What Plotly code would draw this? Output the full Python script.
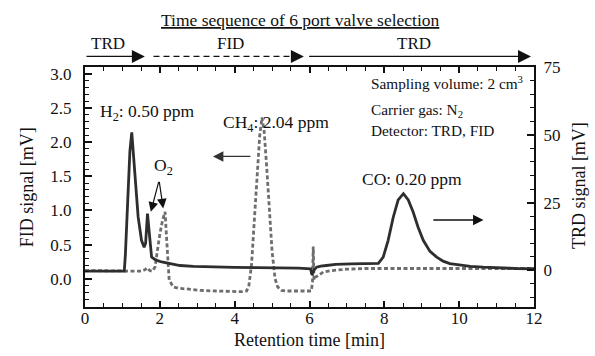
import plotly.graph_objects as go

# ---- data ----
trd_time = [0, 0.3, 0.6, 0.9, 1.05, 1.08, 1.14, 1.20, 1.25, 1.30, 1.34, 1.42, 1.51, 1.58, 1.62, 1.67,
            1.71, 1.74, 1.78, 1.85, 1.92, 2.05, 2.18, 2.35, 2.54, 2.9, 3.43, 4.0, 4.6, 5.2, 5.7, 6.03,
            6.06, 6.09, 6.13, 6.19, 6.3, 6.45, 6.7, 7.1, 7.5, 7.84, 7.97, 8.10, 8.24, 8.37, 8.51, 8.64,
            8.77, 8.90, 9.04, 9.22, 9.40, 9.57, 9.75, 10.0, 10.3, 10.64, 11.0, 11.5, 12.0]
trd_signal = [-0.3, -0.3, -0.4, -0.3, -0.3, 6, 26, 44, 50.9, 41, 32, 19.7, 11.1, 8.5, 10, 20.9,
              15, 9.9, 4.9, 4.2, 3.7, 3.1, 2.7, 2.2, 1.8, 1.5, 1.2, 1.1, 1.0, 1.0, 0.8, 0.6,
              -1.5, -0.8, 0.3, 1.2, 1.6, 1.8, 2.2, 2.4, 2.5, 2.6, 4.9, 11, 19.7, 26, 28.3, 26,
              21.5, 16, 11.1, 7, 4.9, 3.4, 2.5, 2.0, 1.5, 1.2, 0.9, 0.7, 0.6]

fid_time = [0, 0.3, 0.6, 0.9, 1.2, 1.5, 1.6, 1.67, 1.73, 1.80, 1.87, 1.93, 2.0, 2.07, 2.14, 2.18,
            2.21, 2.25, 2.36, 2.5, 2.72, 3.07, 3.5, 3.9, 4.2, 4.32, 4.38, 4.45, 4.52, 4.60, 4.67,
            4.73, 4.79, 4.86, 4.93, 5.00, 5.08, 5.15, 5.25, 5.40, 5.57, 5.8, 6.05, 6.08, 6.10,
            6.12, 6.15, 6.25, 6.37, 6.6, 7.0, 7.5, 8.0, 9.0, 10.0, 11.0, 12.0]
fid_signal = [0.12, 0.12, 0.11, 0.11, 0.11, 0.11, 0.13, 0.16, 0.12, 0.11, 0.17, 0.40, 0.65, 0.85,
              0.98, 0.60, 0.25, -0.02, -0.12, -0.14, -0.15, -0.17, -0.18, -0.19, -0.19, -0.18,
              -0.10, 0.20, 0.80, 1.50, 2.10, 2.36, 2.15, 1.60, 0.95, 0.40, 0.00, -0.12, -0.17,
              -0.18, -0.18, -0.18, -0.18, -0.05, 0.47, -0.02, 0.02, 0.05, 0.10, 0.12, 0.14,
              0.15, 0.15, 0.15, 0.15, 0.15, 0.15]

# valve time sequence (min)
valve_labels = ["TRD", "FID", "TRD"]
valve_start = [0.0, 1.83, 5.95]
valve_end = [1.6, 5.85, 11.92]
valve_label_pos = [0.62, 3.9, 8.8]

FONT = "Times New Roman, Liberation Serif, serif"
BLACK = "#111111"

fig = go.Figure()
fig.add_trace(go.Scatter(x=fid_time, y=fid_signal, mode="lines", yaxis="y",
                         line=dict(color="#6e6e6e", width=2.8, dash="4px,2.5px"),
                         showlegend=False))
fig.add_trace(go.Scatter(x=trd_time, y=trd_signal, mode="lines", yaxis="y2",
                         line=dict(color="#2e2e2e", width=2.8),
                         showlegend=False))

tickfont = dict(family=FONT, size=17, color=BLACK)
fig.update_layout(
    width=595, height=356,
    margin=dict(l=85, r=61, t=67, b=49),
    paper_bgcolor="white", plot_bgcolor="white",
    font=dict(family=FONT, color=BLACK),
    xaxis=dict(range=[0, 12], dtick=2, tick0=0, showgrid=False, zeroline=False, automargin=False,
               showline=True, linecolor=BLACK, linewidth=2, mirror="ticks",
               ticks="inside", ticklen=6, tickwidth=1.5, tickcolor=BLACK,
               minor=dict(dtick=0.5, ticks="inside", ticklen=4, tickwidth=1.2, tickcolor=BLACK),
               tickfont=tickfont, ticklabelstandoff=-5),
    yaxis=dict(range=[-0.414, 3.10], dtick=0.5, tick0=0, tickformat=".1f", showgrid=False,
               zeroline=False, showline=True, linecolor=BLACK, linewidth=2, automargin=False,
               ticks="inside", ticklen=7, tickwidth=1.5, tickcolor=BLACK,
               minor=dict(dtick=0.1, ticks="inside", ticklen=4, tickwidth=1.2, tickcolor=BLACK),
               tickfont=tickfont, ticklabelstandoff=8),
    yaxis2=dict(range=[-13.5, 75], dtick=25, tick0=0, overlaying="y", side="right",
                showgrid=False, zeroline=False, showline=True, linecolor=BLACK, linewidth=2,
                automargin=False,
                ticks="inside", ticklen=7, tickwidth=1.5, tickcolor=BLACK,
                minor=dict(dtick=5, ticks="inside", ticklen=4, tickwidth=1.2, tickcolor=BLACK),
                tickfont=tickfont, ticklabelstandoff=4),
)

anns = []
shapes = []
title_font = dict(family=FONT, size=18, color=BLACK)
# axis titles
anns += [
    dict(text="Retention time [min]", xref="paper", yref="paper", x=0.501, y=-0.139,
         showarrow=False, font=title_font, xanchor="center", yanchor="middle"),
    dict(text="FID signal [mV]", xref="paper", yref="paper", x=-0.129, y=0.499, textangle=-90,
         showarrow=False, font=title_font, xanchor="center", yanchor="middle"),
    dict(text="TRD signal [mV]", xref="paper", yref="paper", x=1.102, y=0.507, textangle=-90,
         showarrow=False, font=title_font, xanchor="center", yanchor="middle"),
]
# title
anns.append(dict(text="<u>Time sequence of 6 port valve selection</u>", xref="paper", yref="paper",
                 x=0.479, y=1.196, showarrow=False, font=dict(family=FONT, size=17.5, color=BLACK),
                 xanchor="center", yanchor="middle"))
ARROW_Y = 1.044
for lab, s, e, lp in zip(valve_labels, valve_start, valve_end, valve_label_pos):
    anns.append(dict(text=lab, xref="x", yref="paper", x=lp, y=1.096, showarrow=False,
                     font=dict(family=FONT, size=17, color=BLACK), xanchor="center", yanchor="middle"))
    if lab == "FID":
        shapes.append(dict(type="line", xref="x", yref="paper", x0=s, x1=e - 0.2, y0=ARROW_Y, y1=ARROW_Y,
                           line=dict(color=BLACK, width=1.3, dash="6px,4px")))
        anns.append(dict(text="", xref="x", yref="paper", x=e, y=ARROW_Y, axref="x", ayref="pixel",
                         ax=e - 0.25, ay=0, showarrow=True, arrowhead=2, arrowsize=2,
                         arrowwidth=1.3, arrowcolor=BLACK))
    else:
        anns.append(dict(text="", xref="x", yref="paper", x=e, y=ARROW_Y, axref="x", ayref="pixel",
                         ax=s, ay=0, showarrow=True, arrowhead=2, arrowsize=2,
                         arrowwidth=1.3, arrowcolor=BLACK))

lab_font = dict(family=FONT, size=17.5, color=BLACK)
small_font = dict(family=FONT, size=15.3, color=BLACK)
anns += [
    dict(text="H<sub>2</sub>: 0.50 ppm", x=1.67, y=2.43, xref="x", yref="y", showarrow=False,
         font=lab_font, xanchor="center", yanchor="middle"),
    dict(text="O<sub>2</sub>", x=2.10, y=1.64, xref="x", yref="y", showarrow=False,
         font=lab_font, xanchor="center", yanchor="middle"),
    dict(text="CH<sub>4</sub>: 2.04 ppm", x=5.1, y=2.27, xref="x", yref="y", showarrow=False,
         font=lab_font, xanchor="center", yanchor="middle"),
    dict(text="CO: 0.20 ppm", x=8.73, y=1.46, xref="x", yref="y", showarrow=False,
         font=lab_font, xanchor="center", yanchor="middle"),
    dict(text="Sampling volume: 2 cm<sup>3</sup>", x=7.59, y=2.88, xref="x", yref="y", showarrow=False,
         font=small_font, xanchor="left", yanchor="middle"),
    dict(text="Carrier gas: N<sub>2</sub>", x=7.59, y=2.47, xref="x", yref="y", showarrow=False,
         font=small_font, xanchor="left", yanchor="middle"),
    dict(text="Detector: TRD, FID", x=7.59, y=2.17, xref="x", yref="y", showarrow=False,
         font=small_font, xanchor="left", yanchor="middle"),
]
# O2 arrows
for tx, ty in [(1.76, 0.98), (2.09, 1.03)]:
    anns.append(dict(text="", x=tx, y=ty, xref="x", yref="y", axref="x", ayref="y",
                     ax=1.98, ay=1.44, showarrow=True, arrowhead=2, arrowsize=1.6,
                     arrowwidth=1.2, arrowcolor=BLACK))
# axis pointer arrows
anns.append(dict(text="", x=3.42, y=1.79, xref="x", yref="y", axref="x", ayref="y",
                 ax=4.46, ay=1.79, showarrow=True, arrowhead=2, arrowsize=1.6,
                 arrowwidth=1.3, arrowcolor="#333333"))
anns.append(dict(text="", x=10.65, y=0.86, xref="x", yref="y", axref="x", ayref="y",
                 ax=9.27, ay=0.86, showarrow=True, arrowhead=2, arrowsize=1.6,
                 arrowwidth=1.3, arrowcolor=BLACK))

fig.update_layout(annotations=anns, shapes=shapes)
fig.write_html("out.html")
